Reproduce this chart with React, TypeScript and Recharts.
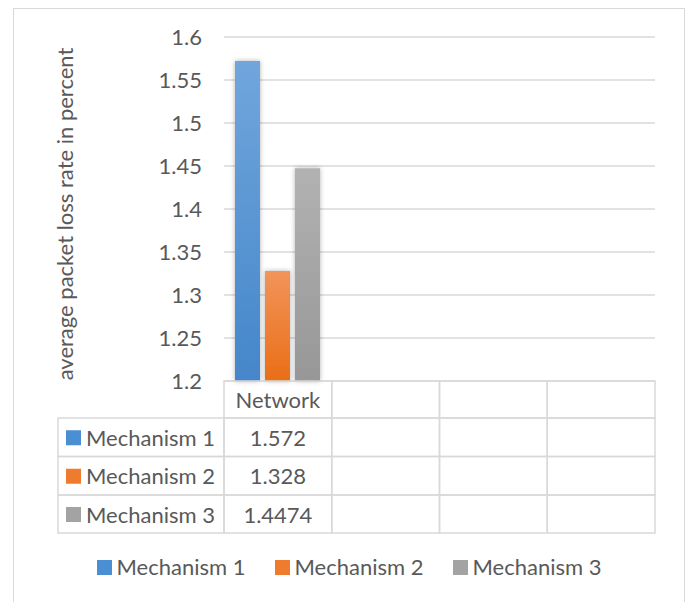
import React from "react";
import { BarChart, Bar, XAxis, YAxis, CartesianGrid, Customized } from "recharts";

const categories = ["Network", "", "", ""];
const mechanism1 = [1.572, null, null, null];
const mechanism2 = [1.328, null, null, null];
const mechanism3 = [1.4474, null, null, null];
const seriesNames = ["Mechanism 1", "Mechanism 2", "Mechanism 3"];
const yTicks = [1.2, 1.25, 1.3, 1.35, 1.4, 1.45, 1.5, 1.55, 1.6];
const yTitle = "average packet loss rate in percent";

const seriesKeys = ["m1", "m2", "m3"];
const seriesValues = [mechanism1, mechanism2, mechanism3];
const data = categories.map((c, i) => ({
  name: c,
  m1: mechanism1[i],
  m2: mechanism2[i],
  m3: mechanism3[i],
}));

const FONT = "Lato, 'Open Sans', sans-serif";
const FS = 22;
const TEXT = "#595959";
const LINE = "#d9d9d9";
const W = 688;
const H = 602;
const M = { top: 37, right: 33, bottom: 69, left: 0 };
const YW = 224;
const XH = 152;
const PLOT_W = W - M.right - YW;
const COL_W = PLOT_W / categories.length;
const ROW_H = [37, 38.5, 38.5, 38];
const LEFT_COL_X = 58;

const gradTop = ["#70a6dc", "#f2945a", "#b2b2b2"];
const gradBottom = ["#4586ca", "#ea6e16", "#979797"];
const swatch = ["#4a8fd3", "#ef7c2e", "#a3a3a3"];

const TableTick = (props: any) => {
  const { x, y, index } = props;
  const x0 = x - COL_W / 2;
  const rows: any[] = [];
  let cy = y;
  for (let r = 0; r < 4; r++) {
    const h = ROW_H[r];
    rows.push(
      <rect key={"c" + r} x={x0} y={cy} width={COL_W} height={h} fill="none" stroke={LINE} strokeWidth={1.5} />
    );
    let txt = "";
    if (r === 0) txt = categories[index];
    else {
      const v = seriesValues[r - 1][index];
      txt = v === null || v === undefined ? "" : String(v);
    }
    if (txt)
      rows.push(
        <text key={"t" + r} x={x} y={cy + h / 2} textAnchor="middle" dominantBaseline="central" fill={TEXT} fontSize={FS} fontFamily={FONT}>
          {txt}
        </text>
      );
    if (index === 0 && r > 0) {
      rows.push(
        <g key={"l" + r}>
          <rect x={LEFT_COL_X} y={cy} width={x0 - LEFT_COL_X} height={h} fill="none" stroke={LINE} strokeWidth={1.5} />
          <rect x={66} y={cy + h / 2 - 7} width={15} height={15} fill={swatch[r - 1]} />
          <text x={86} y={cy + h / 2} dominantBaseline="central" fill={TEXT} fontSize={FS} fontFamily={FONT}>
            {seriesNames[r - 1]}
          </text>
        </g>
      );
    }
    cy += h;
  }
  return <g>{rows}</g>;
};

const YTitle = () => (
  <text
    x={64}
    y={214}
    transform="rotate(-90 64 214)"
    textAnchor="middle"
    dominantBaseline="central"
    fill={TEXT}
    fontSize={FS}
    fontFamily={FONT}
  >
    {yTitle}
  </text>
);

export default function App() {
  return (
    <div style={{ position: "absolute", left: 0, top: 0, width: W, height: H, background: "#fff" }}>
      <div
        style={{
          position: "absolute",
          left: 13,
          top: 8,
          width: 672,
          height: 600,
          border: `1.5px solid ${LINE}`,
          boxSizing: "border-box",
        }}
      />
      <div style={{ position: "absolute", left: 0, top: 0 }}>
        <BarChart width={W} height={H} data={data} margin={M} barSize={25} barGap={5}>
          <defs>
            {seriesKeys.map((k, i) => (
              <linearGradient key={k} id={"g" + k} x1="0" y1="0" x2="0" y2="1">
                <stop offset="0%" stopColor={gradTop[i]} />
                <stop offset="100%" stopColor={gradBottom[i]} />
              </linearGradient>
            ))}
            <filter id="shadow" x="-30%" y="-10%" width="160%" height="120%">
              <feDropShadow dx="0" dy="0" stdDeviation="2.5" floodColor="#000" floodOpacity="0.3" />
            </filter>
          </defs>
          <CartesianGrid vertical={false} stroke={LINE} strokeWidth={1.5} />
          <YAxis
            type="number"
            domain={[1.2, 1.6]}
            ticks={yTicks}
            width={YW}
            axisLine={false}
            tickLine={false}
            tickSize={0}
            tickMargin={22}
            tick={{ fill: TEXT, fontSize: FS, fontFamily: FONT }}
            tickFormatter={(v: number) => String(v)}
          />
          <XAxis
            dataKey="name"
            height={XH}
            axisLine={false}
            tickLine={false}
            tickSize={0}
            tickMargin={0}
            interval={0}
            tick={<TableTick />}
          />
          {seriesKeys.map((k, i) => (
            <Bar key={k} dataKey={k} name={seriesNames[i]} fill={`url(#g${k})`} isAnimationActive={false} filter="url(#shadow)" />
          ))}
          <Customized component={YTitle} />
        </BarChart>
      </div>
      <div
        style={{
          position: "absolute",
          left: 13,
          width: 672,
          top: 553,
          display: "flex",
          justifyContent: "center",
          gap: 29,
          fontFamily: FONT,
          fontSize: FS,
          color: TEXT,
          lineHeight: "28px",
        }}
      >
        {seriesNames.map((n, i) => (
          <div key={n} style={{ display: "flex", alignItems: "center" }}>
            <span style={{ display: "inline-block", width: 15, height: 15, background: swatch[i], marginRight: 5 }} />
            <span>{n}</span>
          </div>
        ))}
      </div>
    </div>
  );
}
